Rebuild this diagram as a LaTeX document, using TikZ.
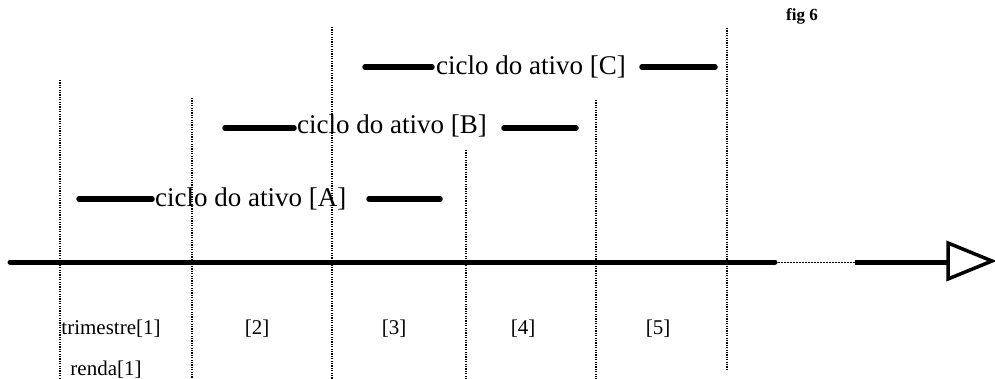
\documentclass[tikz,border=0pt]{standalone}
\usepackage{fontspec}
\setmainfont{Liberation Serif}
\begin{document}
\begin{tikzpicture}[x=1pt,y=-1pt,
  period/.style={line width=1.1pt, dash pattern=on 1.2pt off 1.2pt},
  bar/.style={line width=5.5pt, line cap=round},
  cyclelabel/.style={anchor=base west, inner sep=0pt, font=\fontsize{27}{30}\selectfont},
  slotlabel/.style={anchor=base, inner sep=0pt, font=\fontsize{21}{24}\selectfont},
  axisline/.style={line width=5pt},
  tip/.style={line width=3.5pt, fill=white, line join=miter}]
\useasboundingbox (0,0) rectangle (995,379);

% period boundaries
\draw[period] (60,80) -- (60,379);
\draw[period] (192,98) -- (192,379);
\draw[period] (332,27) -- (332,379);
\draw[period] (466,150) -- (466,379);
\draw[period] (596,100) -- (596,379);
\draw[period] (727,28) -- (727,370);

% asset cycles
\node[cyclelabel] (ca) at (155,207) {ciclo do ativo [A]};
\draw[bar] (79,199) -- (152,199);
\draw[bar] (369,199) -- (440,199);

\node[cyclelabel] (cb) at (297,134) {ciclo do ativo [B]};
\draw[bar] (225,128) -- (294,128);
\draw[bar] (504,128) -- (576,128);

\node[cyclelabel] (cc) at (436,75) {ciclo do ativo [C]};
\draw[bar] (365,67) -- (432,67);
\draw[bar] (642,67) -- (715,67);

% time axis
\coordinate (a0) at (10,262);
\coordinate (a1) at (775,262);
\coordinate (a2) at (855,262);
\coordinate (a3) at (948,262);
\draw[axisline, line cap=round] (a0) -- (a1);
\draw[line width=1pt, dash pattern=on 1.5pt off 1.5pt] (a1) -- (a2);
\draw[axisline] (a2) -- (a3);
\draw[tip] (948,243) -- (992,261) -- (948,279) -- cycle;

% quarter labels
\node[slotlabel] (q1) at (111,334) {trimestre[1]};
\node[slotlabel] (q2) at (257,334) {[2]};
\node[slotlabel] (q3) at (394,334) {[3]};
\node[slotlabel] (q4) at (523,334) {[4]};
\node[slotlabel] (q5) at (658,334) {[5]};
\node[slotlabel] (r1) at (106,375) {renda[1]};

\node[anchor=base west, inner sep=0pt, font=\fontsize{17}{19}\selectfont\bfseries] (fig) at (786,21) {fig 6};
\end{tikzpicture}
\end{document}
